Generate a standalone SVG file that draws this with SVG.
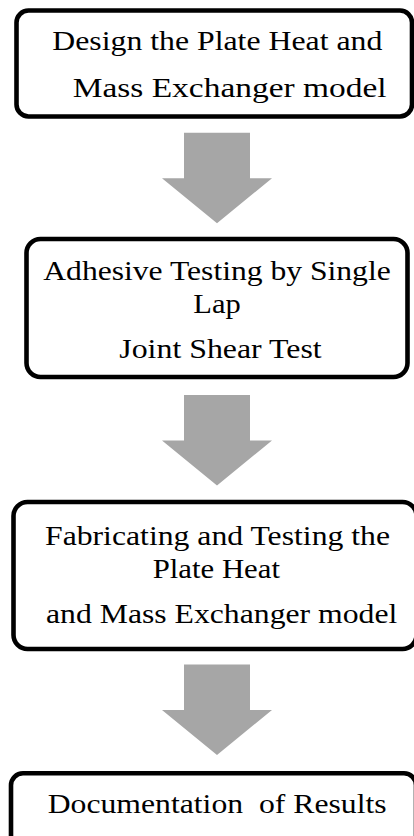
<svg xmlns="http://www.w3.org/2000/svg" width="414" height="836" viewBox="0 0 414 836">
<style>
.box{fill:#fff;stroke:#000;stroke-width:4.6}
.t{font-family:"Liberation Serif","Times New Roman",serif;font-size:28px;fill:#000;white-space:pre}
.arrow{fill:#A6A6A6;stroke:none}
</style>
<defs>
<path id="arr" d="M-33,0 H33 V45.5 H55 L0,90.5 L-55,45.5 H-33 Z"/>
</defs>
<rect width="414" height="836" fill="#fff"/>
<g id="connectors">
<use href="#arr" class="arrow" x="217" y="132.7"/>
<use href="#arr" class="arrow" x="217" y="395"/>
<use href="#arr" class="arrow" x="217" y="664.5"/>
</g>
<g id="node1">
<rect class="box" x="16.5" y="10.5" width="395.5" height="106" rx="12"/>
<text class="t" x="52.3" y="50" textLength="330" lengthAdjust="spacingAndGlyphs">Design the Plate Heat and</text>
<text class="t" x="72.7" y="96.7" textLength="314" lengthAdjust="spacingAndGlyphs">Mass Exchanger model</text>
</g>
<g id="node2">
<rect class="box" x="26.5" y="239" width="381" height="138" rx="14"/>
<text class="t" x="43.3" y="280" textLength="347.4" lengthAdjust="spacingAndGlyphs">Adhesive Testing by Single</text>
<text class="t" x="193.3" y="312.5" textLength="47.4" lengthAdjust="spacingAndGlyphs">Lap</text>
<text class="t" x="119.3" y="358.3" textLength="202.4" lengthAdjust="spacingAndGlyphs">Joint Shear Test</text>
</g>
<g id="node3">
<rect class="box" x="13.5" y="502" width="403" height="147" rx="14"/>
<text class="t" x="45" y="545" textLength="345" lengthAdjust="spacingAndGlyphs">Fabricating and Testing the</text>
<text class="t" x="152.7" y="578.3" textLength="127.3" lengthAdjust="spacingAndGlyphs">Plate Heat</text>
<text class="t" x="46" y="623.3" textLength="351.3" lengthAdjust="spacingAndGlyphs">and Mass Exchanger model</text>
</g>
<g id="node4">
<rect class="box" x="11" y="773.3" width="405" height="80" rx="12"/>
<text class="t" x="47.7" y="813.3" textLength="339" lengthAdjust="spacingAndGlyphs">Documentation  of Results</text>
</g>
</svg>
